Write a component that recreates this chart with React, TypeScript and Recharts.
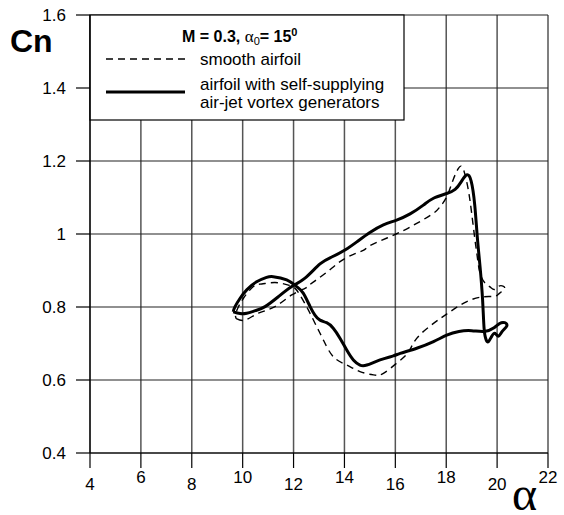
import React from 'react';
import { LineChart, Line, XAxis, YAxis, CartesianGrid, Customized } from 'recharts';

// Smooth airfoil (dashed) – loop in path order
const smoothAlpha = [9.75, 10.09, 10.62, 11.27, 11.93, 12.45, 12.65, 13.3, 14.02, 14.74, 15.0, 16.03, 16.84, 17.5, 17.76, 18.02, 18.28, 18.48, 18.58, 18.7, 18.87, 19.0, 19.13, 19.22, 19.33, 19.53, 19.72, 19.9, 20.1, 20.3, 20.1, 19.9, 19.46, 18.81, 18.15, 17.5, 16.84, 16.5, 16.05, 15.53, 15.14, 14.61, 14.09, 13.56, 13.17, 12.91, 12.58, 12.25, 12.06, 11.8, 11.27, 10.75, 10.42, 10.03, 9.83, 9.72, 9.75];
const smoothCn = [0.768, 0.764, 0.783, 0.801, 0.833, 0.851, 0.862, 0.895, 0.933, 0.955, 0.968, 1.0, 1.029, 1.057, 1.075, 1.102, 1.15, 1.18, 1.186, 1.172, 1.12, 1.057, 0.984, 0.938, 0.892, 0.865, 0.855, 0.848, 0.858, 0.852, 0.838, 0.829, 0.828, 0.815, 0.787, 0.755, 0.714, 0.675, 0.646, 0.618, 0.614, 0.623, 0.641, 0.664, 0.71, 0.746, 0.792, 0.833, 0.851, 0.86, 0.867, 0.863, 0.856, 0.824, 0.8, 0.78, 0.768];

// Airfoil with self-supplying air-jet vortex generators (solid)
const vgAlpha = [9.63, 9.9, 10.16, 10.5, 10.88, 11.4, 11.93, 12.45, 13.04, 13.5, 14.02, 14.5, 15.0, 15.53, 16.05, 16.58, 17.1, 17.5, 18.02, 18.35, 18.58, 18.8, 18.98, 19.12, 19.22, 19.33, 19.43, 19.49, 19.57, 19.66, 19.79, 19.92, 20.05, 20.2, 20.38, 20.3, 20.1, 19.88, 19.5, 19.0, 18.5, 18.02, 17.5, 16.84, 16.19, 15.92, 15.4, 14.88, 14.61, 14.35, 14.09, 13.83, 13.56, 13.3, 13.04, 12.84, 12.65, 12.38, 12.12, 11.73, 11.2, 10.94, 10.55, 10.16, 9.9, 9.7, 9.63];
const vgCn = [0.787, 0.782, 0.783, 0.79, 0.801, 0.828, 0.856, 0.879, 0.918, 0.937, 0.956, 0.979, 1.004, 1.025, 1.038, 1.055, 1.079, 1.098, 1.111, 1.122, 1.142, 1.162, 1.145, 1.08, 0.993, 0.91, 0.819, 0.74, 0.71, 0.705, 0.72, 0.728, 0.72, 0.733, 0.748, 0.757, 0.755, 0.743, 0.733, 0.735, 0.733, 0.723, 0.705, 0.687, 0.673, 0.666, 0.655, 0.641, 0.641, 0.655, 0.682, 0.714, 0.742, 0.757, 0.764, 0.778, 0.801, 0.838, 0.856, 0.874, 0.883, 0.881, 0.869, 0.847, 0.824, 0.801, 0.787];

const xTicks = [4, 6, 8, 10, 12, 14, 16, 18, 20, 22];
const yTicks = [0.4, 0.6, 0.8, 1, 1.2, 1.4, 1.6];

const smoothData = smoothAlpha.map((a, i) => ({ a, c: smoothCn[i] }));
const vgData = vgAlpha.map((a, i) => ({ a, c: vgCn[i] }));

const FONT = '"Liberation Sans", Arial, sans-serif';

const XTick = (props: any) => {
  const { x, y, payload } = props;
  const v = Number(payload.value);
  const high = Math.round(v / 2) % 2 === 1;
  return (
    <text x={x} y={y} dy={high ? 13 : 20} textAnchor="middle" fontFamily={FONT} fontSize={17} fill="#000">
      {payload.value}
    </text>
  );
};

const Decor = () => (
  <g>
    <rect x={90} y={15} width={314} height={105} fill="#fff" stroke="#000" strokeWidth={1.2} />
    <text x={182} y={42} fontFamily={FONT} fontSize={16} fontWeight="bold" fill="#000">
      M = 0.3,{' '}
      <tspan fontFamily='"Liberation Serif", serif' fontWeight="normal" fontSize={17}>α</tspan>
      <tspan fontSize={11} fontWeight="normal" dy={3}>0</tspan>
      <tspan dy={-3}>= 15</tspan>
      <tspan fontSize={11} dy={-6}>0</tspan>
    </text>
    <line x1={106} y1={59} x2={186} y2={59} stroke="#000" strokeWidth={1.3} strokeDasharray="7 5" />
    <text x={200} y={65} fontFamily={FONT} fontSize={17} fill="#000">smooth airfoil</text>
    <line x1={106} y1={92} x2={185} y2={92} stroke="#000" strokeWidth={3} />
    <text x={200} y={90} fontFamily={FONT} fontSize={17} fill="#000">airfoil with self-supplying</text>
    <text x={200} y={108} fontFamily={FONT} fontSize={17} fill="#000">air-jet vortex generators</text>
    <text x={10} y={52} fontFamily={FONT} fontSize={32} fontWeight="bold" fill="#000">Cn</text>
    <text x={512} y={510} fontFamily='"Liberation Serif", serif' fontSize={48} fill="#000">α</text>
  </g>
);

export default function App() {
  return (
    <div style={{ position: 'absolute', left: 0, top: 0, background: '#fff' }}>
      <LineChart width={564} height={515} margin={{ top: 15, right: 16, bottom: 0, left: 0 }}>
        <CartesianGrid horizontal={false} stroke="#555" strokeWidth={1.5} />
        <CartesianGrid vertical={false} stroke="#222" strokeWidth={1.2} />
        <XAxis
          dataKey="a"
          type="number"
          domain={[4, 22]}
          ticks={xTicks}
          interval={0}
          height={62}
          tickSize={15}
          tickLine={{ stroke: '#000', strokeWidth: 1.2 }}
          axisLine={{ stroke: '#000', strokeWidth: 1.2 }}
          tick={<XTick />}
          allowDataOverflow
        />
        <YAxis
          type="number"
          domain={[0.4, 1.6]}
          ticks={yTicks}
          interval={0}
          width={90}
          tickSize={14}
          tickMargin={10}
          tickLine={{ stroke: '#000', strokeWidth: 1.2 }}
          axisLine={{ stroke: '#000', strokeWidth: 1.2 }}
          tick={{ fill: '#000', fontSize: 17, fontFamily: FONT }}
          allowDataOverflow
        />
        <Line data={smoothData} dataKey="c" type="natural" stroke="#000" strokeWidth={1.4} strokeDasharray="7 5" dot={false} isAnimationActive={false} />
        <Line data={vgData} dataKey="c" type="natural" stroke="#000" strokeWidth={3} dot={false} isAnimationActive={false} />
        <Customized component={<Decor />} />
      </LineChart>
    </div>
  );
}
